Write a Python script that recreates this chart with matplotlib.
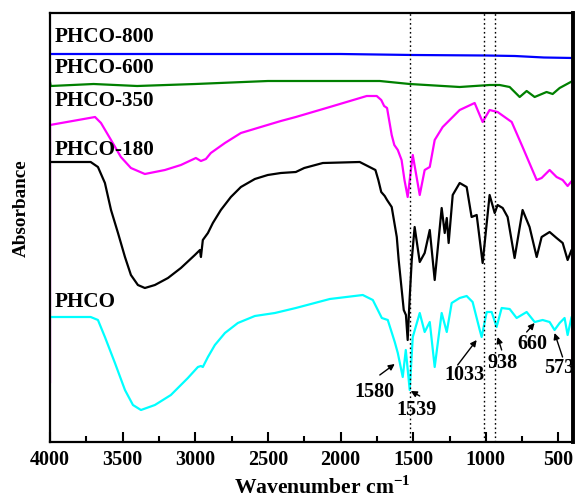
import matplotlib
matplotlib.use("Agg")
from matplotlib import pyplot as plt
from matplotlib.ticker import MultipleLocator

plt.rcParams['font.family'] = ['Liberation Serif', 'DejaVu Serif']
plt.rcParams['font.weight'] = 'bold'
plt.rcParams['mathtext.fontset'] = 'custom'
plt.rcParams['mathtext.rm'] = 'Liberation Serif:bold'
plt.rcParams['mathtext.bf'] = 'Liberation Serif:bold'

# spectra (wavenumber cm-1, absorbance a.u., offset-stacked)
wn_800 = [4000, 3000, 2000, 1500, 1000, 800, 600, 400]
ab_800 = [3.88, 3.88, 3.88, 3.87, 3.865, 3.86, 3.845, 3.84]

wn_600 = [4000, 3995, 3700, 3400, 3000, 2500, 2000, 1730, 1524, 1180, 974, 905,
          836, 767, 719, 664, 582, 540, 492, 403]
ab_600 = [3.60, 3.56, 3.58, 3.56, 3.58, 3.61, 3.61, 3.61, 3.58, 3.55, 3.57, 3.57,
          3.55, 3.45, 3.51, 3.45, 3.50, 3.48, 3.54, 3.61]

wn_350 = [4000, 4000, 3690, 3649, 3580, 3512, 3443, 3347, 3209, 3099, 2996, 2961,
          2927, 2893, 2796, 2686, 2549, 2411, 2308, 2074, 1820, 1751, 1720, 1700,
          1680, 1648, 1630, 1606, 1580, 1560, 1538, 1503, 1455, 1421, 1386, 1352,
          1297, 1180, 1077, 1022, 974, 919, 822, 747, 650, 616, 561, 513, 471, 437,
          403, 403]
ab_350 = [0.60, 3.17, 3.25, 3.19, 3.02, 2.85, 2.74, 2.68, 2.72, 2.77, 2.84, 2.81,
          2.83, 2.89, 2.99, 3.09, 3.15, 3.21, 3.25, 3.35, 3.46, 3.46, 3.42, 3.36,
          3.34, 3.07, 2.97, 2.92, 2.82, 2.62, 2.45, 2.87, 2.47, 2.72, 2.75, 3.02,
          3.15, 3.32, 3.39, 3.20, 3.32, 3.30, 3.20, 2.95, 2.62, 2.64, 2.72, 2.65,
          2.62, 2.56, 2.62, 0.50]

wn_180 = [4000, 3720, 3670, 3622, 3580, 3532, 3484, 3443, 3395, 3347, 3278, 3188,
          3099, 3003, 2968, 2961, 2948, 2913, 2879, 2824, 2755, 2686, 2590, 2501,
          2411, 2308, 2250, 2122, 1868, 1760, 1740, 1720, 1696, 1680, 1648, 1613,
          1600, 1579, 1565, 1550, 1538, 1525, 1510, 1490, 1455, 1421, 1386, 1352,
          1304, 1283, 1269, 1256, 1228, 1180, 1132, 1098, 1063, 1022, 974, 939, 919,
          884, 850, 802, 747, 699, 650, 616, 561, 513, 471, 437, 410, 403]
ab_180 = [2.80, 2.80, 2.75, 2.59, 2.32, 2.09, 1.85, 1.67, 1.57, 1.54, 1.57, 1.64,
          1.74, 1.87, 1.92, 1.85, 2.02, 2.09, 2.19, 2.32, 2.45, 2.55, 2.63, 2.67,
          2.69, 2.70, 2.74, 2.79, 2.80, 2.72, 2.62, 2.50, 2.46, 2.42, 2.35, 2.05,
          1.82, 1.52, 1.32, 1.27, 1.02, 1.42, 1.82, 2.15, 1.80, 1.89, 2.12, 1.62,
          2.34, 2.09, 2.24, 1.99, 2.47, 2.59, 2.55, 2.25, 2.27, 1.79, 2.47, 2.29,
          2.37, 2.34, 2.25, 1.84, 2.32, 2.15, 1.85, 2.05, 2.10, 2.04, 1.99, 1.82,
          1.92, 1.92]

wn_phco = [4000, 3720, 3670, 3622, 3553, 3484, 3429, 3374, 3278, 3168, 3051, 2982,
           2961, 2948, 2913, 2865, 2796, 2707, 2590, 2452, 2308, 2074, 1847, 1778,
           1716, 1675, 1627, 1606, 1572, 1551, 1524, 1503, 1455, 1421, 1386, 1352,
           1304, 1269, 1235, 1180, 1132, 1091, 1042, 1029, 994, 960, 926, 891, 836,
           788, 719, 664, 609, 561, 527, 492, 458, 437, 410, 403]
ab_phco = [1.25, 1.25, 1.22, 1.05, 0.79, 0.52, 0.37, 0.32, 0.37, 0.47, 0.64, 0.75,
           0.76, 0.75, 0.85, 0.97, 1.09, 1.19, 1.26, 1.29, 1.34, 1.43, 1.47, 1.42,
           1.24, 1.22, 1.00, 0.89, 0.65, 0.92, 0.52, 1.05, 1.29, 1.10, 1.20, 0.75,
           1.29, 1.10, 1.39, 1.44, 1.46, 1.40, 1.12, 1.05, 1.30, 1.30, 1.15, 1.34,
           1.33, 1.24, 1.30, 1.20, 1.22, 1.20, 1.12, 1.19, 1.24, 1.07, 1.25, 1.25]

series = [
    ('PHCO-800', wn_800, ab_800, '#0000ff', 4.05),
    ('PHCO-600', wn_600, ab_600, '#008000', 3.74),
    ('PHCO-350', wn_350, ab_350, '#ff00ff', 3.41),
    ('PHCO-180', wn_180, ab_180, 'black', 2.92),
    ('PHCO', wn_phco, ab_phco, '#00ffff', 1.40),
]

marker_lines = [1525, 1015, 940]

# peak label, text position, arrow tail, arrow tip
peaks = [
    ('1580', (1765, 0.50), (1730, 0.67), (1627, 0.78)),
    ('1539', (1476, 0.32), (1455, 0.46), (1517, 0.51)),
    ('1033', (1146, 0.67), (1194, 0.77), (1063, 1.02)),
    ('938', (884, 0.79), (891, 0.92), (919, 1.05)),
    ('660', (678, 0.98), (719, 1.10), (664, 1.19)),
    ('573', (492, 0.74), (472, 0.85), (527, 1.09)),
]

fig = plt.figure(figsize=(5.76, 4.99), dpi=100)
ax = fig.add_axes([50 / 576, 57 / 499, 523 / 576, 429 / 499])

for name, wn, ab, col, ylab in series:
    ax.plot(wn, ab, color=col, lw=1.6)
    ax.text(3965, ylab, name, ha='left', va='center', fontsize=15.2, fontweight='bold')

for w in marker_lines:
    ax.axvline(w, color='black', ls=(0, (1.2, 2)), lw=1)

for lab, txt, tail, tip in peaks:
    ax.annotate('', xy=tip, xytext=tail,
                arrowprops=dict(arrowstyle='-|>', color='black', lw=1,
                                mutation_scale=9, shrinkA=0, shrinkB=0))
    ax.text(txt[0], txt[1], lab, ha='center', va='center', fontsize=14.5,
            fontweight='bold')

ax.set_xlim(4000, 400)
ax.set_ylim(0, 4.29)
ax.xaxis.set_major_locator(MultipleLocator(500))
ax.xaxis.set_minor_locator(MultipleLocator(250))
ax.tick_params(axis='x', which='major', direction='in', length=7, width=1.5,
               labelsize=14.5, pad=6, top=False)
ax.tick_params(axis='x', which='minor', direction='in', length=4, width=1.5, top=False)
ax.set_yticks([])
for lab in ax.get_xticklabels():
    lab.set_fontweight('bold')

for s in ['left', 'top', 'bottom']:
    ax.spines[s].set_linewidth(1.6)
ax.spines['right'].set_linewidth(2.8)

ax.set_xlabel(r'Wavenumber cm$^{-1}$', fontsize=15.6, fontweight='bold')
ax.xaxis.set_label_coords(0.52, -0.08, transform=ax.transAxes)
ax.xaxis.label.set_va('top')
ax.set_ylabel('Absorbance', fontsize=13.8, fontweight='bold')
ax.yaxis.set_label_coords(-0.038, 0.545, transform=ax.transAxes)

fig.savefig('out.png', dpi=100)
